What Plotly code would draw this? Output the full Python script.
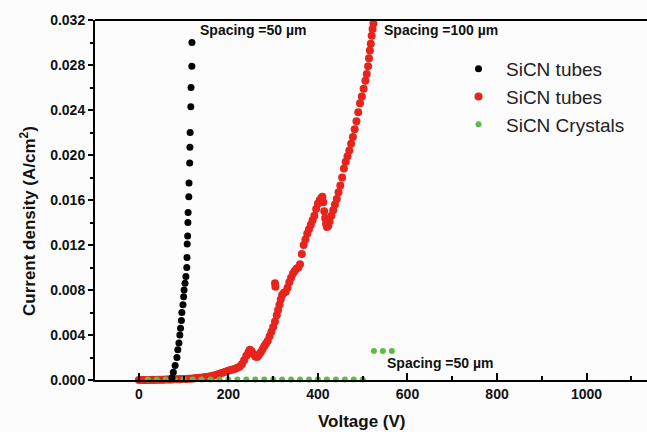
import plotly.graph_objects as go

# ---- data ----
black_v = [120.5, 118.5, 118.3, 116.5, 116.0, 114.5, 114.0, 113.5, 112.0, 111.5,
           110.0, 109.5, 109.0, 108.0, 107.5, 107.0, 105.0, 103.0, 101.0, 100.0,
           98.5, 96.0, 95.0, 93.0, 91.5, 89.5, 87.0, 85.0, 81.0, 77.0, 74.0]
black_j = [0.0322, 0.0300, 0.0279, 0.0260, 0.0243, 0.0220, 0.0207, 0.0193, 0.0175, 0.0163,
           0.0149, 0.0140, 0.0128, 0.0121, 0.0109, 0.0100, 0.0092, 0.0086, 0.0080, 0.0074,
           0.0067, 0.0060, 0.0053, 0.0046, 0.0040, 0.0033, 0.0027, 0.0020, 0.0013, 0.0007, 0.0002]

red_v = [0, 5, 10, 15, 20, 25, 30, 35, 40, 45, 50, 55, 60, 65, 70, 75, 80, 85, 90, 95,
         100, 105, 110, 115, 120, 125, 130, 135, 140, 145, 150, 155, 160, 165, 170, 175,
         180, 185, 190, 195, 200, 205, 210, 215, 220, 225, 230, 235, 240, 245, 248, 252,
         256, 260, 264, 268, 272, 276, 280, 284, 288, 292, 296, 300, 304, 305, 304, 308,
         311, 314, 317, 320, 324, 328, 332, 336, 340, 344, 348, 352, 356, 360, 364, 368,
         372, 376, 380, 384, 388, 392, 396, 400, 404, 408, 410, 412, 414, 416, 418, 420,
         423, 426, 430, 434, 438, 442, 446, 450, 454, 458, 462, 466, 470, 474, 478, 482,
         486, 490, 494, 498, 502, 506, 509, 512, 514, 516, 518, 520, 522, 524, 527]
red_j = [0.00000, 0.00000, 0.00001, 0.00000, 0.00001, 0.00001, 0.00002, 0.00001, 0.00002, 0.00002,
         0.00003, 0.00003, 0.00004, 0.00004, 0.00005, 0.00005, 0.00006, 0.00006, 0.00007, 0.00008,
         0.00009, 0.00010, 0.00011, 0.00012, 0.00013, 0.00015, 0.00017, 0.00019, 0.00021, 0.00024,
         0.00027, 0.00030, 0.00034, 0.00038, 0.00043, 0.00049, 0.00055, 0.00062, 0.00070, 0.00076,
         0.00082, 0.00088, 0.00094, 0.00100, 0.00108, 0.00118, 0.00140, 0.00175, 0.00215, 0.00250,
         0.00270, 0.00255, 0.00228, 0.00210, 0.00205, 0.00222, 0.00245, 0.00272, 0.00300, 0.00325,
         0.00350, 0.00390, 0.00430, 0.00472, 0.00860, 0.00830, 0.00520, 0.00575, 0.00622, 0.00670,
         0.00715, 0.00755, 0.00775, 0.00785, 0.00820, 0.00870, 0.00910, 0.00945, 0.00970, 0.00990,
         0.01000, 0.01030, 0.01120, 0.01200, 0.01250, 0.01300, 0.01340, 0.01380, 0.01420, 0.01460,
         0.01520, 0.01570, 0.01600, 0.01620, 0.01630, 0.01580, 0.01500, 0.01440, 0.01390, 0.01360,
         0.01370, 0.01410, 0.01460, 0.01510, 0.01560, 0.01610, 0.01670, 0.01730, 0.01800, 0.01880,
         0.01940, 0.01990, 0.02040, 0.02100, 0.02160, 0.02230, 0.02300, 0.02380, 0.02460, 0.02520,
         0.02590, 0.02660, 0.02720, 0.02790, 0.02860, 0.02930, 0.02990, 0.03060, 0.03120, 0.03170,
         0.03210]

green_v = [20, 40, 60, 80, 100, 120, 140, 160, 180, 200, 220, 240, 260, 280, 300, 320,
           340, 360, 380, 400, 420, 440, 460, 480, 500, 525, 545, 565]
green_j = [0.00005] * 25 + [0.00258, 0.00258, 0.00258]

x_ticks = [0, 200, 400, 600, 800, 1000]
y_ticks = [0.000, 0.004, 0.008, 0.012, 0.016, 0.020, 0.024, 0.028, 0.032]

labels = ["SiCN tubes", "SiCN tubes", "SiCN Crystals"]
notes = ["Spacing =50 µm", "Spacing =100 µm", "Spacing =50 µm"]
note_v = [132, 543, 550]
note_j = [0.0311, 0.0311, 0.00151]

FONT = "Liberation Sans, Arial, sans-serif"

L, R, T, B = 95, 0, 20, 52
W, H = 647, 432
pw, ph = W - L - R, H - T - B


def px(x):
    return (x - L) / pw


def py(y):
    return (H - B - y) / ph


fig = go.Figure()
fig.add_trace(go.Scatter(x=red_v, y=red_j, mode="markers", name=labels[1], legendrank=2,
                         legendgroup="b",
                         marker=dict(color="#e8231c", size=8), cliponaxis=False))
fig.add_trace(go.Scatter(x=green_v, y=green_j, mode="markers", name=labels[2], legendrank=3,
                         legendgroup="c",
                         marker=dict(color="#5cba45", size=6), cliponaxis=False))
fig.add_trace(go.Scatter(x=black_v, y=black_j, mode="markers", name=labels[0], legendrank=1,
                         legendgroup="a",
                         marker=dict(color="#000000", size=7), cliponaxis=False))

for t, v, j in zip(notes, note_v, note_j):
    fig.add_annotation(x=v, y=j, xref="x", yref="y", text=t, showarrow=False,
                       xanchor="left", yanchor="middle",
                       font=dict(family=FONT, size=14, color="#111", weight="bold"))

fig.add_annotation(x=px(28), y=py(221), xref="paper", yref="paper",
                   text="Current density (A/cm<sup>2</sup>)", textangle=-90, showarrow=False,
                   xanchor="center", yanchor="middle",
                   font=dict(family=FONT, size=17, color="#111", weight="bold"))
fig.add_annotation(x=px(362), y=py(421), xref="paper", yref="paper",
                   text="Voltage (V)", showarrow=False, xanchor="center", yanchor="middle",
                   font=dict(family=FONT, size=17, color="#111", weight="bold"))

fig.add_shape(type="line", xref="paper", yref="paper", x0=0, x1=1, y0=1, y1=1,
              line=dict(color="#000", width=2))

fig.update_xaxes(range=[-98, 1135], tickvals=x_ticks, ticks="inside", ticklen=7, tickwidth=1.5,
                 tickcolor="#000", showline=True, linecolor="#000", linewidth=2,
                 showgrid=False, zeroline=False,
                 minor=dict(dtick=100, tick0=0, ticks="inside", ticklen=4, tickwidth=1.5,
                            tickcolor="#000", showgrid=False),
                 tickfont=dict(family=FONT, size=14, color="#111", weight="bold"))
fig.update_yaxes(range=[0, 0.032], tickvals=y_ticks, tickformat=".3f", ticks="outside",
                 ticklen=5, tickwidth=1.5, tickcolor="#000", showline=True, linecolor="#000",
                 linewidth=2, showgrid=False, zeroline=False,
                 minor=dict(dtick=0.002, tick0=0, ticks="outside", ticklen=3, tickwidth=1.5,
                            tickcolor="#000", showgrid=False),
                 tickfont=dict(family=FONT, size=14, color="#111", weight="bold"))

fig.update_layout(
    width=W, height=H,
    margin=dict(l=L, r=R, t=T, b=B),
    paper_bgcolor="#fcfcfd", plot_bgcolor="#fcfcfd",
    showlegend=True,
    legend=dict(x=px(451), y=py(50), xanchor="left", yanchor="top", itemwidth=45,
                bgcolor="rgba(0,0,0,0)", traceorder="grouped", tracegroupgap=0,
                font=dict(family=FONT, size=19, color="#222")),
)

fig.write_html("out.html", config={"displayModeBar": False},
               post_script="document.body.style.margin='0';document.body.style.overflow='hidden';")
